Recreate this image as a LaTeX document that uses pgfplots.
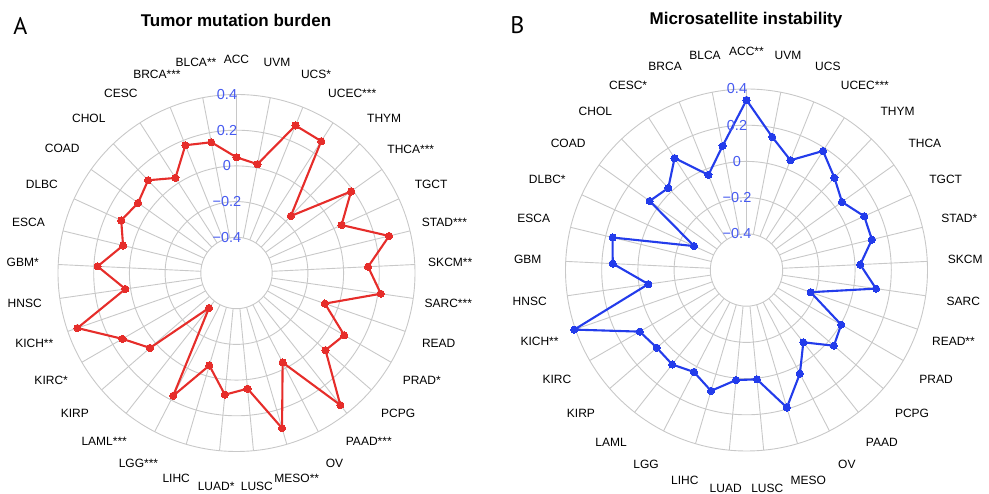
\documentclass[border=0pt]{standalone}
\usepackage{pgfplots}
\pgfplotsset{compat=1.18}
\usepackage{pgfplotstable}
\usepgfplotslibrary{polar}
\usepackage{fontspec}
\setmainfont{Liberation Sans}
\newfontfamily\letterfont{PT Sans}
\definecolor{gridgray}{RGB}{200,200,200}
\definecolor{myred}{RGB}{230,45,42}
\definecolor{myblue}{RGB}{35,60,235}
\definecolor{tickblue}{RGB}{70,90,240}

% Tumor mutation burden (correlation), categories in order ACC ... UVM, first repeated to close
\pgfplotstableread{
name v
ACC 0.048
BLCA 0.146
BRCA 0.171
CESC 0.033
CHOL 0.118
COAD 0.077
DLBC 0.110
ESCA 0.054
GBM 0.179
HNSC 0.029
KICH 0.343
KIRC 0.138
KIRP 0.041
LAML -0.351
LGG 0.174
LIHC -0.060
LUAD 0.085
LUSC 0.051
MESO 0.306
OV -0.036
PAAD 0.341
PCPG 0.060
PRAD 0.097
READ -0.076
SARC 0.217
SKCM 0.138
STAD 0.280
TGCT 0.047
THCA 0.188
THYM -0.159
UCEC 0.278
UCS 0.290
UVM 0.021
ACC 0.048
}\tmbdata

% Microsatellite instability
\pgfplotstableread{
name v
ACC 0.339
BLCA 0.098
BRCA -0.034
CESC 0.135
CHOL 0.026
COAD 0.057
DLBC -0.282
ESCA 0.161
GBM 0.140
HNSC -0.052
KICH 0.407
KIRC 0.081
KIRP 0.056
LAML 0.064
LGG 0.034
LIHC 0.096
LUAD 0.011
LUSC 0.007
MESO 0.192
OV 0.044
PAAD -0.092
PCPG 0.039
PRAD 0.004
READ -0.225
SARC 0.123
SKCM 0.029
STAD 0.113
TGCT 0.115
THCA 0.048
THYM 0.104
UCEC 0.182
UCS 0.053
UVM 0.149
ACC 0.339
}\msidata

\newcommand\lblfont{\fontsize{12}{14}\selectfont}
\newcommand\tickfont{\fontsize{14.5}{16}\selectfont}

\begin{document}
\begin{tikzpicture}
\path[use as bounding box] (-236.5pt,-221pt) rectangle (752.5pt,273pt);

% ---------- Panel A grid ----------
\begin{scope}
\foreach \i in {0,...,32}
  \draw[gridgray, line width=0.9pt] ({90+\i*360/33}:35.7pt) -- ({90+\i*360/33}:178.5pt);
\foreach \r in {35.7,71.4,107.1,142.8,178.5}
  \draw[gridgray, line width=0.9pt] (0,0) circle[radius=\r pt];
\end{scope}

% ---------- Panel B grid ----------
\begin{scope}[shift={(510pt,3pt)}]
\foreach \i in {0,...,32}
  \draw[gridgray, line width=0.9pt] ({90+\i*360/33}:36.2pt) -- ({90+\i*360/33}:181pt);
\foreach \r in {36.2,72.4,108.6,144.8,181}
  \draw[gridgray, line width=0.9pt] (0,0) circle[radius=\r pt];
\end{scope}

% ---------- Panel A data ----------
\begin{polaraxis}[at={(0pt,0pt)}, anchor=origin, scale only axis,
  width=357pt, height=357pt, ymin=0, ymax=1, hide axis, clip=false]
\addplot[myred, line width=2.1pt, mark=*, mark size=3.6pt,
  mark options={fill=myred, draw=myred, line width=0pt}]
  table[x expr={90+\coordindex*360/33}, y expr={\thisrow{v}+0.6}] {\tmbdata};
\end{polaraxis}

% ---------- Panel B data ----------
\begin{polaraxis}[at={(510pt,3pt)}, anchor=origin, scale only axis,
  width=362pt, height=362pt, ymin=0, ymax=1, hide axis, clip=false]
\addplot[myblue, line width=2.1pt, mark=*, mark size=3.6pt,
  mark options={fill=myblue, draw=myblue, line width=0pt}]
  table[x expr={90+\coordindex*360/33}, y expr={\thisrow{v}+0.6}] {\msidata};
\end{polaraxis}

% ---------- Radial tick labels ----------
\begin{scope}[text=tickblue, font=\tickfont]
\node at (-9.5pt,178.5pt) {0.4};
\node at (-9.5pt,142.8pt) {0.2};
\node at (-9.5pt,107.1pt) {0};
\node at (-9.5pt,71.4pt) {−0.2};
\node at (-9.5pt,35.7pt) {−0.4};
\node at (500.5pt,184pt) {0.4};
\node at (500.5pt,147.8pt) {0.2};
\node at (500.5pt,111.6pt) {0};
\node at (500.5pt,75.4pt) {−0.2};
\node at (500.5pt,39.2pt) {−0.4};
\end{scope}

% ---------- Category labels ----------
\foreach \lab [count=\i from 0] in {ACC,BLCA**,BRCA***,CESC,CHOL,COAD,DLBC,ESCA,GBM*,HNSC,KICH**,KIRC*,KIRP,LAML***,LGG***,LIHC,LUAD*,LUSC,MESO**,OV,PAAD***,PCPG,PRAD*,READ,SARC***,SKCM**,STAD***,TGCT,THCA***,THYM,UCEC***,UCS*,UVM}
  \node[font=\lblfont, inner sep=0pt] at ({90+\i*360/33}:214pt) {\lab};

\begin{scope}[shift={(510pt,3pt)}]
\foreach \lab [count=\i from 0] in {ACC**,BLCA,BRCA,CESC*,CHOL,COAD,DLBC*,ESCA,GBM,HNSC,KICH**,KIRC,KIRP,LAML,LGG,LIHC,LUAD,LUSC,MESO,OV,PAAD,PCPG,PRAD,READ**,SARC,SKCM,STAD*,TGCT,THCA,THYM,UCEC***,UCS,UVM}
  \node[font=\lblfont, inner sep=0pt] at ({90+\i*360/33}:219pt) {\lab};
\end{scope}

% ---------- Titles and panel letters ----------
\node[font=\fontsize{17}{20}\selectfont\bfseries] at (-0.5pt,253pt) {Tumor mutation burden};
\node[font=\fontsize{17}{20}\selectfont\bfseries] at (509.5pt,253pt) {Microsatellite instability};
\node[font=\fontsize{24}{28}\selectfont\letterfont] at (-216.2pt,247.5pt) {A};
\node[font=\fontsize{24}{28}\selectfont\letterfont] at (281pt,248pt) {B};
\end{tikzpicture}
\end{document}
